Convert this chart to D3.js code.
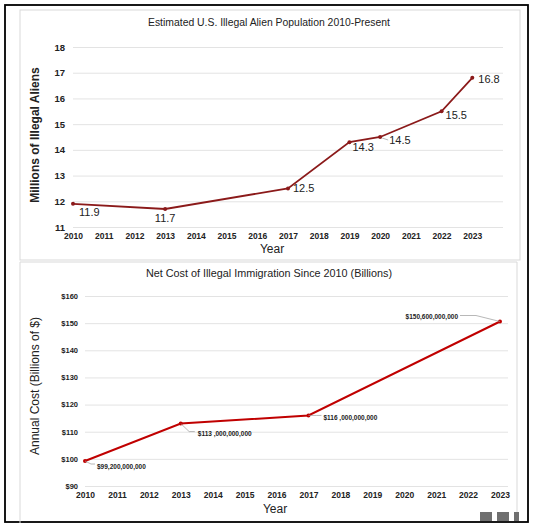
<!DOCTYPE html>
<html><head><meta charset="utf-8">
<script src="https://cdn.jsdelivr.net/npm/d3@7"></script>
<style>
html,body{margin:0;padding:0;background:#fff;}
text{font-family:"Liberation Sans",Arial,sans-serif;}
</style></head>
<body><svg id="c" width="534" height="527"></svg>
<script>
// Top chart data
const popYears = [2010, 2013, 2017, 2019, 2020, 2022, 2023];
const popValues = [11.9, 11.7, 12.5, 14.3, 14.5, 15.5, 16.8];
const popLabels = ["11.9", "11.7", "12.5", "14.3", "14.5", "15.5", "16.8"];
const popYTicks = [11, 12, 13, 14, 15, 16, 17, 18];
const yearTicks = [2010,2011,2012,2013,2014,2015,2016,2017,2018,2019,2020,2021,2022,2023];

// Bottom chart data
const costYears = [2010, 2013, 2017, 2023];
const costValues = [99.2, 113, 116, 150.6];
const costLabels = ["$99,200,000,000", "$113 ,000,000,000", "$116 ,000,000,000", "$150,600,000,000"];
const costYTicks = [90, 100, 110, 120, 130, 140, 150, 160];

const svg = d3.select("#c");

// outer frame
svg.append("rect").attr("x",5).attr("y",5).attr("width",523).attr("height",517)
  .attr("fill","none").attr("stroke","#000").attr("stroke-width",1.8);
// panels
svg.append("rect").attr("x",20).attr("y",10).attr("width",500).attr("height",250)
  .attr("fill","none").attr("stroke","#d9d9d9").attr("stroke-width",1);
svg.append("path").attr("d","M20,523 V262 H517 V512").attr("fill","none").attr("stroke","#d9d9d9").attr("stroke-width",1);

// ---------- Top chart ----------
const x1 = d3.scaleLinear().domain([2010, 2024]).range([73, 503]);
const y1 = d3.scaleLinear().domain([11, 18]).range([227, 47]);
const g1 = svg.append("g");
g1.append("text").attr("x",269).attr("y",26).attr("text-anchor","middle")
  .attr("font-size",10.4).attr("fill","#222").text("Estimated U.S. Illegal Alien Population 2010-Present");

const gy1 = g1.append("g").attr("transform","translate(73,0)")
  .call(d3.axisLeft(y1).tickValues(popYTicks).tickSize(-(503-73)).tickPadding(8).tickFormat(d3.format("d")));
gy1.select(".domain").remove();
gy1.selectAll(".tick line").attr("stroke","#e3e3e3");
gy1.selectAll(".tick text").attr("font-size",9.5).attr("font-weight","bold").attr("fill","#222")
  .attr("font-family","Liberation Sans, Arial, sans-serif");

const gx1 = g1.append("g").attr("transform","translate(0,227)")
  .call(d3.axisBottom(x1).tickValues(yearTicks).tickSize(0).tickPadding(6).tickFormat(d3.format("d")));
gx1.select(".domain").remove();
gx1.selectAll(".tick text").attr("font-size",8.5).attr("font-weight","bold").attr("fill","#222")
  .attr("font-family","Liberation Sans, Arial, sans-serif");

g1.append("text").attr("x",272).attr("y",253).attr("text-anchor","middle")
  .attr("font-size",12).attr("fill","#222").text("Year");
g1.append("text").attr("transform","translate(39,135) rotate(-90)").attr("text-anchor","middle")
  .attr("font-size",12).attr("font-weight","bold").attr("fill","#222").text("Millions of Illegal Aliens");

const popData = popYears.map((y,i)=>({x:y, v:popValues[i], l:popLabels[i]}));
const line1 = d3.line().x(d=>x1(d.x)).y(d=>y1(d.v));
g1.append("path").datum(popData).attr("d",line1).attr("fill","none")
  .attr("stroke","#8b1a1a").attr("stroke-width",1.8);
g1.selectAll("circle.p").data(popData).enter().append("circle")
  .attr("cx",d=>x1(d.x)).attr("cy",d=>y1(d.v)).attr("r",2).attr("fill","#8b1a1a");
// label offsets [dx, dy, anchor]
const popOff = [[6,12,"start"],[0,13,"middle"],[5,4,"start"],[3,9,"start"],[9,7,"start"],[4,8,"start"],[6,5,"start"]];
g1.selectAll("text.pl").data(popData).enter().append("text")
  .attr("x",(d,i)=>x1(d.x)+popOff[i][0]).attr("y",(d,i)=>y1(d.v)+popOff[i][1])
  .attr("text-anchor",(d,i)=>popOff[i][2]).attr("font-size",11).attr("fill","#222").text(d=>d.l);
// tiny leader near 14.5
g1.append("line").attr("x1",x1(2020)+2).attr("y1",y1(14.5)+1).attr("x2",x1(2020)+8).attr("y2",y1(14.5)+3)
  .attr("stroke","#999").attr("stroke-width",0.7);

// ---------- Bottom chart ----------
const x2 = d3.scaleLinear().domain([2010, 2023]).range([85, 500]);
const y2 = d3.scaleLinear().domain([90, 160]).range([486, 296]);
const g2 = svg.append("g");
g2.append("text").attr("x",269).attr("y",277).attr("text-anchor","middle")
  .attr("font-size",10.8).attr("fill","#222").text("Net Cost of Illegal Immigration Since 2010 (Billions)");

const gy2 = g2.append("g").attr("transform","translate(85,0)")
  .call(d3.axisLeft(y2).tickValues(costYTicks).tickSize(-(508-85)).tickPadding(7).tickFormat(d=>"$"+d));
gy2.select(".domain").remove();
gy2.selectAll(".tick line").attr("stroke","#e3e3e3");
gy2.selectAll(".tick text").attr("font-size",7.5).attr("font-weight","bold").attr("fill","#222")
  .attr("font-family","Liberation Sans, Arial, sans-serif");

const gx2 = g2.append("g").attr("transform","translate(0,486)")
  .call(d3.axisBottom(x2).tickValues(yearTicks).tickSize(0).tickPadding(6).tickFormat(d3.format("d")));
gx2.select(".domain").remove();
gx2.selectAll(".tick text").attr("font-size",8.5).attr("font-weight","bold").attr("fill","#222")
  .attr("font-family","Liberation Sans, Arial, sans-serif");

g2.append("text").attr("x",275).attr("y",513).attr("text-anchor","middle")
  .attr("font-size",12).attr("fill","#222").text("Year");
g2.append("text").attr("transform","translate(39,386) rotate(-90)").attr("text-anchor","middle")
  .attr("font-size",12).attr("fill","#222").text("Annual Cost (Billions of $)");

const costData = costYears.map((y,i)=>({x:y, v:costValues[i], l:costLabels[i]}));
const line2 = d3.line().x(d=>x2(d.x)).y(d=>y2(d.v));
g2.append("path").datum(costData).attr("d",line2).attr("fill","none")
  .attr("stroke","#c00000").attr("stroke-width",2);
g2.selectAll("circle.p").data(costData).enter().append("circle")
  .attr("cx",d=>x2(d.x)).attr("cy",d=>y2(d.v)).attr("r",2).attr("fill","#c00000");
// labels: [labelX offset, labelY offset, anchor, leader end dx, leader end dy]
const costOff = [[12,5,"start",10,3],[17,10,"start",14,8],[15,2,"start",13,0],[-42,-5,"end",-40,-6]];
const cl = g2.selectAll("g.cl").data(costData).enter().append("g");
cl.append("polyline").attr("points",(d,i)=>{
    const px=x2(d.x), py=y2(d.v), o=costOff[i];
    return `${px},${py} ${px+o[3]*0.6},${py+o[4]} ${px+o[3]},${py+o[4]}`;
  }).attr("fill","none").attr("stroke","#9a9a9a").attr("stroke-width",0.7);
cl.append("text").attr("x",(d,i)=>x2(d.x)+costOff[i][0]).attr("y",(d,i)=>y2(d.v)+costOff[i][1]+2.5)
  .attr("text-anchor",(d,i)=>costOff[i][2]).attr("font-size",6.5).attr("font-weight","bold")
  .attr("fill","#222").text(d=>d.l);

// small gray artifacts bottom right
[[480,512,12],[497,512,12],[514,512,5]].forEach(r=>{
  svg.append("rect").attr("x",r[0]).attr("y",r[1]).attr("width",r[2]).attr("height",9).attr("fill","#6f6f6f");
});
</script></body></html>
